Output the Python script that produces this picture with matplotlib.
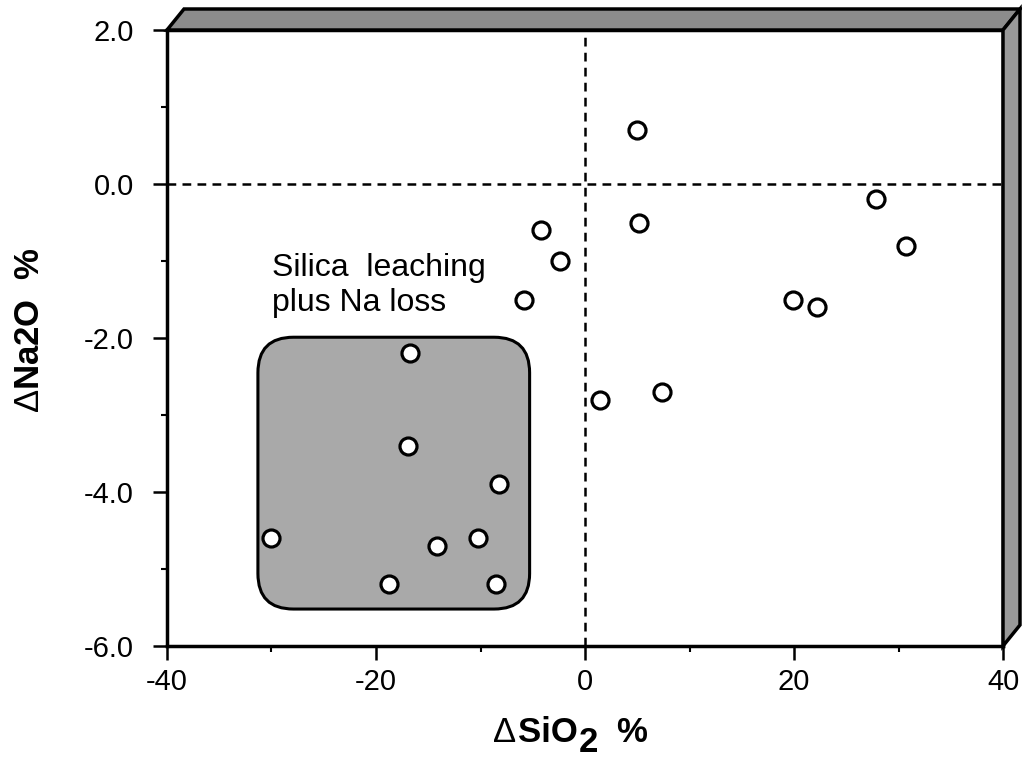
import matplotlib
matplotlib.use("Agg")
import matplotlib.pyplot as plt
from matplotlib.patches import FancyBboxPatch, Polygon
from matplotlib.ticker import FixedLocator, FixedFormatter, MultipleLocator

plt.rcParams['font.family'] = ['Liberation Sans', 'DejaVu Sans']
plt.rcParams['mathtext.fontset'] = 'custom'
plt.rcParams['mathtext.rm'] = 'Liberation Sans'
plt.rcParams['mathtext.bf'] = 'Liberation Sans:bold'

# Data
dsio2 = [5.0, 5.2, -4.2, -2.4, -5.8, 27.8, 30.7, 19.9, 22.2, 1.4, 7.4,
         -16.7, -16.9, -8.2, -30.0, -14.2, -10.2, -18.8, -8.5]
dna2o = [0.7, -0.5, -0.6, -1.0, -1.5, -0.2, -0.8, -1.5, -1.6, -2.8, -2.7,
         -2.2, -3.4, -3.9, -4.6, -4.7, -4.6, -5.2, -5.2]

x_ticks = [-40, -20, 0, 20, 40]
x_tick_labels = ["-40", "-20", "0", "20", "40"]
y_ticks = [2.0, 0.0, -2.0, -4.0, -6.0]
y_tick_labels = ["2.0", "0.0", "-2.0", "-4.0", "-6.0"]

box_x0, box_x1 = -31.3, -5.3
box_y0, box_y1 = -5.52, -1.99
box_label = "Silica  leaching\nplus Na loss"

W, H = 1022, 762
fig = plt.figure(figsize=(W / 100, H / 100), dpi=100)
L, R, T, B = 167 / W, 1003 / W, 1 - 30 / H, 1 - 646 / H
ax = fig.add_axes([L, B, R - L, T - B])
ax.set_xlim(-40, 40)
ax.set_ylim(-6, 2)

# 3D frame bars
dx, dy = 17 / W, 21 / H
top = Polygon([(L, T), (L + dx, T + dy), (R + dx, T + dy), (R, T)], closed=True,
              transform=fig.transFigure, facecolor='#8c8c8c', edgecolor='black',
              linewidth=2.5, clip_on=False, zorder=0)
right = Polygon([(R, T), (R + dx, T + dy), (R + dx, B + dy), (R, B)], closed=True,
                transform=fig.transFigure, facecolor='#999999', edgecolor='black',
                linewidth=2.5, clip_on=False, zorder=0)
fig.patches.extend([top, right])

# rounded box
aspect = (8 / 616) / (80 / 836)
box = FancyBboxPatch((box_x0, box_y0), box_x1 - box_x0, box_y1 - box_y0,
                     boxstyle="round,pad=0,rounding_size=3.4",
                     mutation_aspect=aspect, facecolor='#a9a9a9',
                     edgecolor='black', linewidth=2.2, zorder=1)
ax.add_patch(box)
ax.text(-29.95, -0.9, box_label, fontsize=23, ha='left', va='top',
        linespacing=1.2, zorder=3)

# dashed zero lines
ax.axvline(0, color='black', linestyle=(0, (3.5, 2.5)), linewidth=1.8, zorder=2)
ax.axhline(0, color='black', linestyle=(0, (3.5, 2.5)), linewidth=1.8, zorder=2)

ax.scatter(dsio2, dna2o, s=150, facecolor='white', edgecolor='black',
           linewidth=2.3, zorder=4)

ax.xaxis.set_major_locator(FixedLocator(x_ticks))
ax.xaxis.set_major_formatter(FixedFormatter(x_tick_labels))
ax.yaxis.set_major_locator(FixedLocator(y_ticks))
ax.yaxis.set_major_formatter(FixedFormatter(y_tick_labels))
ax.xaxis.set_minor_locator(MultipleLocator(10))
ax.yaxis.set_minor_locator(MultipleLocator(1))
ax.tick_params(which='major', direction='out', length=10, width=1.8,
               labelsize=21)
ax.tick_params(which='minor', direction='out', length=4.5, width=1.5)
ax.tick_params(axis='x', which='major', pad=6)
ax.tick_params(axis='y', which='major', pad=14)

for s in ax.spines.values():
    s.set_linewidth(2.5)

# y label
ax.set_ylabel("$\\mathrm{Δ}$Na2O  %", fontsize=25, fontweight='bold')
ax.yaxis.set_label_coords((46 - 167) / 836, (646 - 330) / 616)

# x label built from pieces (full-size lowered subscript)
fs = 25
t1 = fig.text(493 / W, 1 - 749 / H, "Δ", fontsize=fs, ha='left', va='bottom')
t2 = ax.annotate("SiO", xy=(1, 0), xycoords=t1, xytext=(1, 0),
                 textcoords='offset points', fontsize=fs, fontweight='bold',
                 ha='left', va='bottom', annotation_clip=False)
t3 = ax.annotate("2", xy=(1, 0), xycoords=t2, xytext=(1, -7),
                 textcoords='offset points', fontsize=fs, fontweight='bold',
                 ha='left', va='bottom', annotation_clip=False)
t4 = ax.annotate("%", xy=(1, 0), xycoords=t3, xytext=(13, 7),
                 textcoords='offset points', fontsize=fs, fontweight='bold',
                 ha='left', va='bottom', annotation_clip=False)

fig.savefig("out.png", dpi=100)
